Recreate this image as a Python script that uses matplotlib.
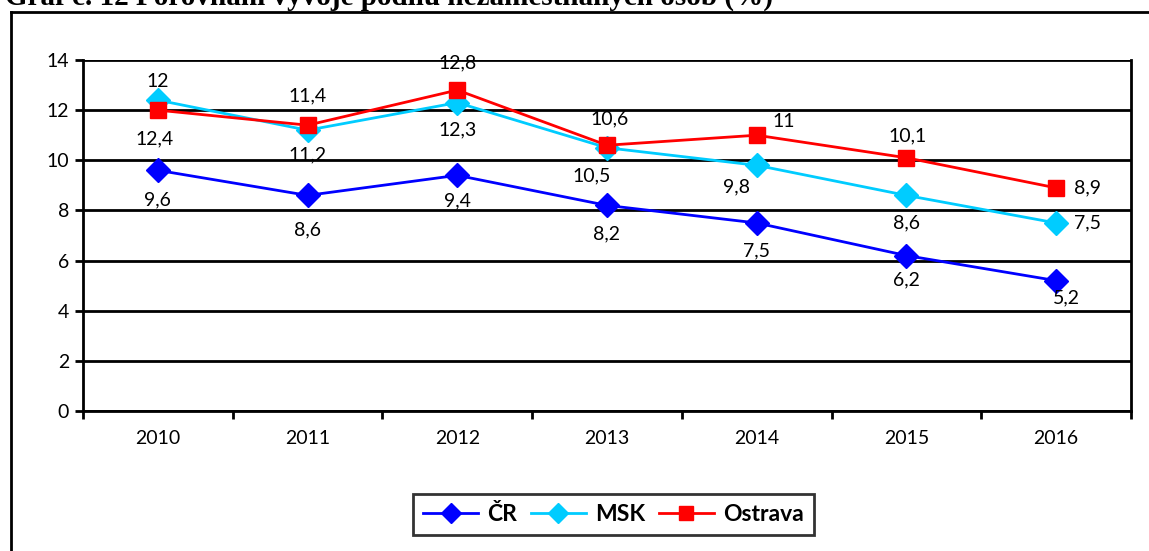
import matplotlib
matplotlib.use("Agg")
import matplotlib.pyplot as plt
import numpy as np
from matplotlib.lines import Line2D

years = ["2010", "2011", "2012", "2013", "2014", "2015", "2016"]
cr = [9.6, 8.6, 9.4, 8.2, 7.5, 6.2, 5.2]
msk = [12.4, 11.2, 12.3, 10.5, 9.8, 8.6, 7.5]
ostrava = [12.0, 11.4, 12.8, 10.6, 11.0, 10.1, 8.9]
series_names = ["ČR", "MSK", "Ostrava"]

# label offsets in pixels (dx, dy), dy positive = up
cr_off = [(0, -30), (0, -34), (0, -26), (0, -28), (0, -28), (0, -24), (10, -17)]
msk_off = [(-3, -39), (0, -25), (0, -27), (-15, -28), (-20, -22), (0, -27), (31, 0)]
ost_off = [(0, 29), (0, 29), (0, 27), (3, 26), (27, 14), (1, 22), (31, 0)]

W, H = 1149, 551
fig = plt.figure(figsize=(W / 100, H / 100), dpi=100)
ax = fig.add_axes([83 / W, 1 - 411 / H, (1131 - 83) / W, (411 - 60) / H])

x = np.arange(len(years))
ax.plot(x, cr, color="#0000FF", lw=2, marker="D", ms=12.5, mec="#0000FF", mfc="#0000FF", label=series_names[0], zorder=5)
ax.plot(x, msk, color="#00CCFF", lw=2, marker="D", ms=12.5, mec="#00CCFF", mfc="#00CCFF", label=series_names[1], zorder=5)
ax.plot(x, ostrava, color="#FF0000", lw=2, marker="s", ms=12, mec="#FF0000", mfc="#FF0000", label=series_names[2], zorder=6)

font = "Lato"
fs = 14
def fmt(v):
    s = ("%g" % v).replace(".", ",")
    return s
for vals, offs in ((cr, cr_off), (msk, msk_off), (ostrava, ost_off)):
    for xi, v, (dx, dy) in zip(x, vals, offs):
        ax.annotate(fmt(v), (xi, v), xytext=(dx * 0.72, dy * 0.72), textcoords="offset points",
                    ha="center", va="center", fontsize=fs, family=font, color="black", zorder=7)

ax.set_xlim(-0.5, 6.5)
ax.set_ylim(0, 14)
ax.set_yticks(np.arange(0, 15, 2))
ax.set_yticklabels([str(v) for v in range(0, 15, 2)], family=font, fontsize=fs)
ax.yaxis.grid(True, color="black", lw=2)
ax.set_axisbelow(True)
ax.set_xticks(np.arange(-0.5, 7, 1))
ax.set_xticklabels([])
ax.set_xticks(x, minor=True)
ax.set_xticklabels(years, minor=True, family=font, fontsize=fs)
ax.tick_params(axis="x", which="major", length=6, width=2, direction="out")
ax.tick_params(axis="x", which="minor", length=0, pad=14)
ax.tick_params(axis="y", length=6, width=2, direction="out", pad=4)
for s in ("left", "bottom", "right"):
    ax.spines[s].set_linewidth(2)
ax.spines["top"].set_visible(False)

leg = ax.legend(loc="center", bbox_to_anchor=(613.5 / W, 1 - 514.5 / H), bbox_transform=fig.transFigure,
                ncol=3, frameon=True, fancybox=False, edgecolor="black", handlelength=2.4,
                columnspacing=0.6, handletextpad=0.4, borderpad=0.45, markerscale=0.85,
                prop={"family": font, "weight": "bold", "size": 16.5})
leg.get_frame().set_linewidth(2)

# outer frame
fig.add_artist(Line2D([11 / W, 11 / W], [0, 1 - 12 / H], color="black", lw=2, transform=fig.transFigure))
fig.add_artist(Line2D([11 / W, 1], [1 - 12 / H, 1 - 12 / H], color="black", lw=2, transform=fig.transFigure))

fig.text(5 / W, 1 - 4.5 / H, "Graf č. 12 Porovnání vývoje podílu nezaměstnaných osob (%)",
         family="Liberation Serif", weight="bold", fontsize=21, va="baseline", ha="left")

fig.savefig("out.png", dpi=100)
